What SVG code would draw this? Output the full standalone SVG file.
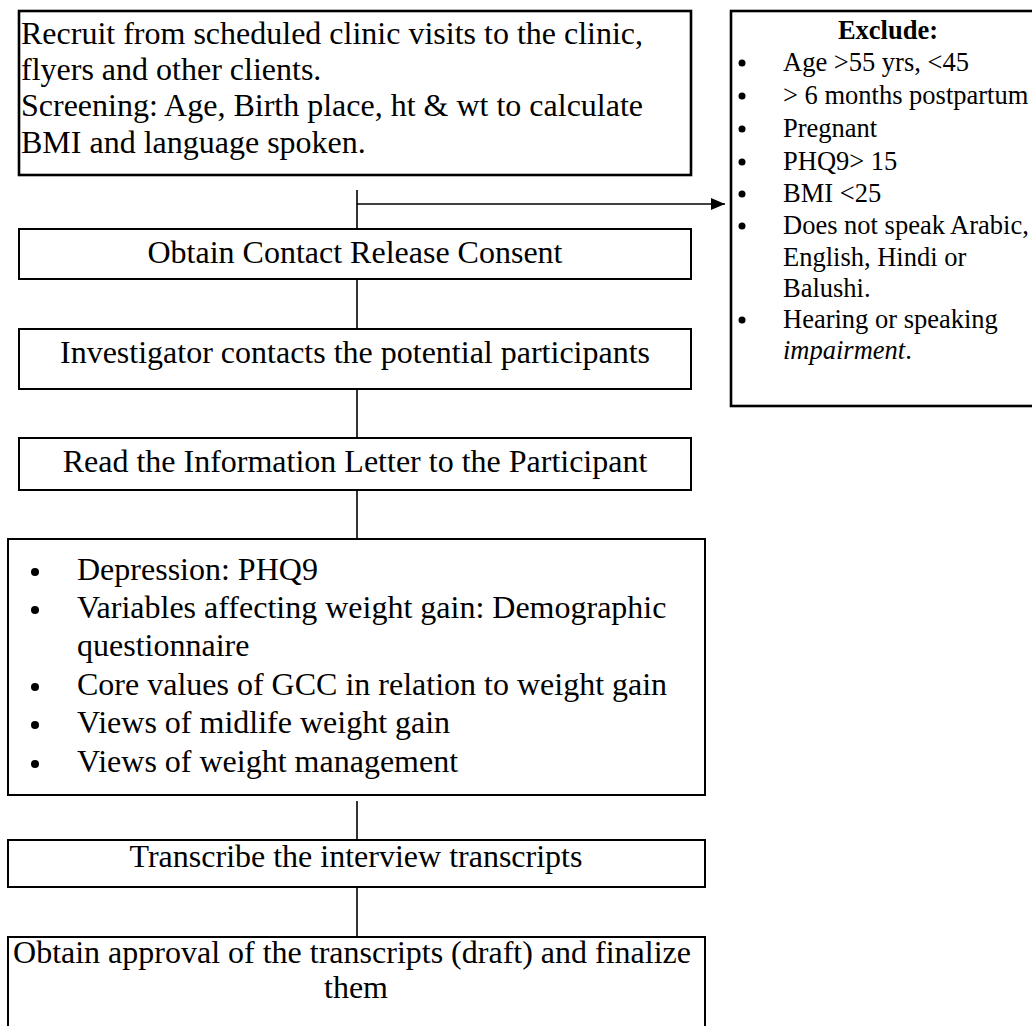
<svg xmlns="http://www.w3.org/2000/svg" width="1032" height="1026" viewBox="0 0 1032 1026">
<defs>
<marker id="arr" viewBox="0 0 14 12" refX="14" refY="6" markerWidth="14" markerHeight="12" markerUnits="userSpaceOnUse" orient="auto">
<path d="M0,0 L14,6 L0,12 Z" fill="#000"/>
</marker>
<style>
.box{fill:#fff;stroke:#000;stroke-width:2}
.thick{stroke-width:2.6}
.t{font-family:"Liberation Serif","Times New Roman",serif;font-size:32px;fill:#000}
.c{text-anchor:middle}
.s{font-family:"Liberation Serif","Times New Roman",serif;font-size:26.5px;fill:#000}
.b{font-weight:bold}
.i{font-style:italic}
.ln{stroke:#000;stroke-width:1.6;fill:none}
</style>
</defs>
<rect width="1032" height="1026" fill="#fff"/>
<g id="connectors">
<line class="ln" x1="357" y1="190" x2="357" y2="229"/>
<line class="ln" x1="357" y1="204" x2="725" y2="204" marker-end="url(#arr)"/>
<line class="ln" x1="357" y1="279" x2="357" y2="329"/>
<line class="ln" x1="357" y1="389" x2="357" y2="438"/>
<line class="ln" x1="357" y1="490" x2="357" y2="539"/>
<line class="ln" x1="357" y1="801" x2="357" y2="840"/>
<line class="ln" x1="357" y1="887" x2="357" y2="937"/>
</g>
<g id="recruit">
<rect class="box thick" x="19" y="11" width="672" height="164"/>
<text class="t" x="21" y="44">Recruit from scheduled clinic visits to the clinic,</text>
<text class="t" x="21" y="80">flyers and other clients.</text>
<text class="t" x="21" y="116">Screening: Age, Birth place, ht &amp; wt to calculate</text>
<text class="t" x="21" y="153">BMI and language spoken.</text>
</g>
<g id="exclude">
<rect class="box thick" x="731" y="11" width="320" height="395"/>
<text class="s b c" x="888" y="39">Exclude:</text>
<g class="s">
<circle cx="742" cy="63" r="3.5"/><text x="783" y="71">Age &gt;55 yrs, &lt;45</text>
<circle cx="742" cy="96" r="3.5"/><text x="783" y="104">&gt; 6 months postpartum</text>
<circle cx="742" cy="129" r="3.5"/><text x="783" y="137">Pregnant</text>
<circle cx="742" cy="162" r="3.5"/><text x="783" y="170">PHQ9&gt; 15</text>
<circle cx="742" cy="194" r="3.5"/><text x="783" y="202">BMI &lt;25</text>
<circle cx="742" cy="226" r="3.5"/><text x="783" y="234">Does not speak Arabic,</text>
<text x="783" y="266">English, Hindi or</text>
<text x="783" y="297">Balushi.</text>
<circle cx="742" cy="320" r="3.5"/><text x="783" y="328">Hearing or speaking</text>
<text x="783" y="359"><tspan class="i">impairment</tspan>.</text>
</g>
</g>
<g id="consent">
<rect class="box" x="19" y="229" width="672" height="50"/>
<text class="t c" x="355" y="263">Obtain Contact Release Consent</text>
</g>
<g id="contacts">
<rect class="box" x="19" y="329" width="672" height="60"/>
<text class="t c" x="355" y="363">Investigator contacts the potential participants</text>
</g>
<g id="letter">
<rect class="box" x="19" y="438" width="672" height="52"/>
<text class="t c" x="355" y="472">Read the Information Letter to the Participant</text>
</g>
<g id="measures">
<rect class="box" x="8" y="539" width="697" height="256"/>
<circle cx="35" cy="572" r="4"/><text class="t" x="77" y="580">Depression: PHQ9</text>
<circle cx="35" cy="610" r="4"/><text class="t" x="77" y="618">Variables affecting weight gain: Demographic</text>
<text class="t" x="77" y="656">questionnaire</text>
<circle cx="35" cy="687" r="4"/><text class="t" x="77" y="695">Core values of GCC in relation to weight gain</text>
<circle cx="35" cy="725" r="4"/><text class="t" x="77" y="733">Views of midlife weight gain</text>
<circle cx="35" cy="764" r="4"/><text class="t" x="77" y="772">Views of weight management</text>
</g>
<g id="transcribe">
<rect class="box" x="8" y="840" width="697" height="47"/>
<text class="t c" x="356" y="867">Transcribe the interview transcripts</text>
</g>
<g id="approval">
<rect class="box" x="8" y="937" width="697" height="100"/>
<text class="t c" x="352" y="963">Obtain approval of the transcripts (draft) and finalize</text>
<text class="t c" x="356" y="998">them</text>
</g>
</svg>
